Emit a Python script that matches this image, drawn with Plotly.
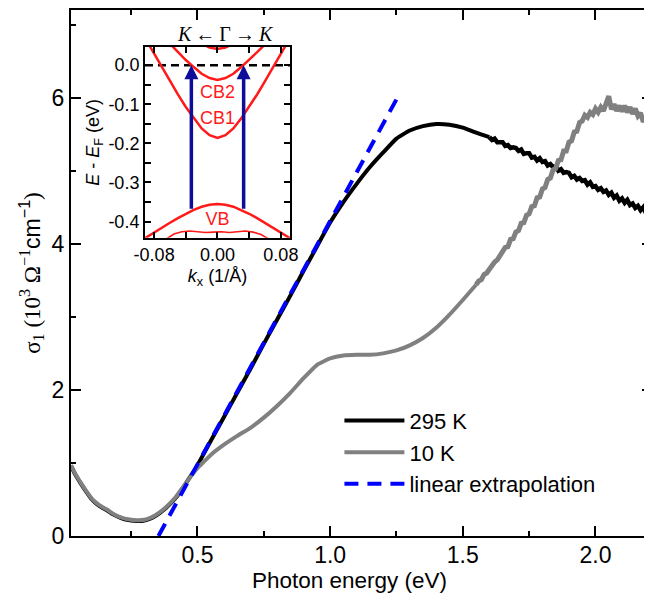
import plotly.graph_objects as go

# ---------------- main data ----------------
# 295 K, smooth part
x_295 = [0.0235, 0.04, 0.06, 0.08, 0.10, 0.12, 0.14, 0.16, 0.18, 0.20, 0.22, 0.24, 0.26, 0.28, 0.30,
         0.32, 0.34, 0.36, 0.38, 0.40, 0.42, 0.44, 0.46, 0.48, 0.50, 0.55, 0.60, 0.65, 0.70, 0.75,
         0.80, 0.85, 0.90, 0.95, 1.00, 1.05, 1.10, 1.15, 1.20, 1.25, 1.30, 1.35, 1.40, 1.45, 1.50,
         1.55, 1.60]
y_295 = [0.96, 0.84, 0.72, 0.61, 0.51, 0.44, 0.39, 0.35, 0.30, 0.265, 0.235, 0.218, 0.208, 0.205, 0.213,
         0.235, 0.27, 0.32, 0.38, 0.45, 0.53, 0.63, 0.74, 0.85, 0.97, 1.30, 1.63, 1.96, 2.29, 2.63,
         2.96, 3.29, 3.63, 3.96, 4.29, 4.57, 4.82, 5.05, 5.25, 5.44, 5.55, 5.61, 5.64, 5.63, 5.59,
         5.52, 5.46]
# 295 K, noisy high-energy part
x_295_hi = [1.60, 1.61, 1.62, 1.63, 1.64, 1.65, 1.66, 1.67, 1.68, 1.69, 1.70, 1.71, 1.72, 1.73, 1.74,
            1.75, 1.76, 1.77, 1.78, 1.79, 1.80, 1.81, 1.82, 1.83, 1.84, 1.85, 1.86, 1.87, 1.88, 1.89,
            1.90, 1.91, 1.92, 1.93, 1.94, 1.95, 1.96, 1.97, 1.98, 1.99, 2.00, 2.01, 2.02, 2.03, 2.04,
            2.05, 2.06, 2.07, 2.08, 2.09, 2.10, 2.11, 2.12, 2.13, 2.14, 2.15, 2.16, 2.17, 2.18, 2.19,
            2.20, 2.21]
y_295_hi = [5.46, 5.42, 5.44, 5.39, 5.39, 5.39, 5.34, 5.35, 5.31, 5.32, 5.31, 5.27, 5.29, 5.23, 5.24,
            5.24, 5.18, 5.19, 5.14, 5.17, 5.12, 5.13, 5.07, 5.09, 5.05, 5.06, 5.00, 5.02, 4.97, 4.98,
            4.97, 4.91, 4.93, 4.88, 4.90, 4.86, 4.87, 4.81, 4.84, 4.78, 4.79, 4.74, 4.76, 4.71, 4.73,
            4.67, 4.70, 4.63, 4.66, 4.59, 4.62, 4.56, 4.60, 4.53, 4.55, 4.49, 4.52, 4.46, 4.50, 4.42,
            4.45, 4.39]

# 10 K, smooth part
x_10 = [0.0235, 0.04, 0.06, 0.08, 0.10, 0.12, 0.14, 0.16, 0.18, 0.20, 0.22, 0.24, 0.26, 0.28, 0.30,
        0.32, 0.34, 0.36, 0.38, 0.40, 0.42, 0.44, 0.46, 0.48, 0.50, 0.52, 0.55, 0.60, 0.65, 0.70,
        0.75, 0.80, 0.85, 0.90, 0.95, 1.00, 1.05, 1.10, 1.15, 1.20, 1.25, 1.30, 1.35, 1.40, 1.45,
        1.50, 1.55]
y_10 = [0.97, 0.85, 0.73, 0.62, 0.52, 0.45, 0.40, 0.36, 0.31, 0.27, 0.245, 0.228, 0.218, 0.215, 0.222,
        0.245, 0.28, 0.33, 0.39, 0.46, 0.54, 0.64, 0.74, 0.84, 0.93, 1.00, 1.11, 1.25, 1.37, 1.48,
        1.62, 1.78, 1.96, 2.16, 2.34, 2.43, 2.47, 2.48, 2.48, 2.50, 2.54, 2.61, 2.71, 2.85, 3.03,
        3.23, 3.44]
# 10 K, noisy high-energy part
x_10_hi = [1.55, 1.56, 1.57, 1.58, 1.59, 1.60, 1.61, 1.62, 1.63, 1.64, 1.65, 1.66, 1.67, 1.68,
           1.69, 1.70, 1.71, 1.72, 1.73, 1.74, 1.75, 1.76, 1.77, 1.78, 1.79, 1.80, 1.81, 1.82, 1.83,
           1.84, 1.85, 1.86, 1.87, 1.88, 1.89, 1.90, 1.91, 1.92, 1.93, 1.94, 1.95, 1.96, 1.97, 1.98,
           1.99, 2.00, 2.01, 2.02, 2.03, 2.04, 2.05, 2.06, 2.07, 2.08, 2.09, 2.10, 2.11, 2.12, 2.13,
           2.14, 2.15, 2.16, 2.17, 2.18, 2.19, 2.20, 2.21]
y_10_hi = [3.44, 3.49, 3.51, 3.58, 3.60, 3.66, 3.69, 3.75, 3.78, 3.84, 3.87, 3.95, 3.96, 4.06,
           4.07, 4.16, 4.18, 4.28, 4.29, 4.39, 4.41, 4.51, 4.52, 4.63, 4.64, 4.75, 4.77, 4.88, 4.90,
           5.01, 5.03, 5.14, 5.15, 5.27, 5.27, 5.39, 5.41, 5.53, 5.54, 5.66, 5.68, 5.76, 5.73, 5.80,
           5.77, 5.85, 5.80, 5.87, 5.82, 5.91, 6.02, 5.84, 5.91, 5.82, 5.89, 5.81, 5.89, 5.80, 5.87,
           5.78, 5.85, 5.75, 5.79, 5.67, 5.72, 5.61, 5.66]

x_lin = [0.353, 1.258]
y_lin = [0.0, 6.03]

x_ticks = [0.5, 1.0, 1.5, 2.0]
x_ticktext = ["0.5", "1.0", "1.5", "2.0"]
x_minor = [0.25, 0.75, 1.25, 1.75]
y_ticks = [0, 2, 4, 6]
y_ticktext = ["0", "2", "4", "6"]
y_minor = [1, 3, 5, 7]

# ---------------- inset data ----------------
k_cb = [-0.10, -0.09, -0.08, -0.07, -0.06, -0.05, -0.04, -0.03, -0.02, -0.01, 0.0,
        0.01, 0.02, 0.03, 0.04, 0.05, 0.06, 0.07, 0.08, 0.09, 0.10]
E_cb2 = [0.138, 0.117, 0.095, 0.074, 0.053, 0.033, 0.013, -0.005, -0.022, -0.033, -0.038,
         -0.033, -0.022, -0.005, 0.013, 0.033, 0.053, 0.074, 0.095, 0.117, 0.138]
E_cb1 = [0.099, 0.064, 0.028, -0.007, -0.041, -0.075, -0.107, -0.136, -0.162, -0.179, -0.186,
         -0.179, -0.162, -0.136, -0.107, -0.075, -0.041, -0.007, 0.028, 0.064, 0.099]
E_vb = [-0.453, -0.440, -0.427, -0.415, -0.403, -0.391, -0.380, -0.370, -0.362, -0.357, -0.355,
        -0.357, -0.362, -0.370, -0.380, -0.391, -0.403, -0.415, -0.427, -0.440, -0.453]
k_vb2 = [-0.075, -0.065, -0.055, -0.045, -0.035, -0.025, -0.015, -0.005, 0.005, 0.015, 0.025,
         0.035, 0.045, 0.055, 0.065, 0.075]
E_vb2 = [-0.465, -0.445, -0.432, -0.426, -0.424, -0.426, -0.428, -0.427, -0.426, -0.428, -0.426,
         -0.424, -0.427, -0.433, -0.445, -0.465]
k_cb3 = [-0.03, -0.02, -0.01, 0.0, 0.01, 0.02, 0.03]
E_cb3 = [0.071, 0.055, 0.045, 0.041, 0.045, 0.055, 0.071]
k_ef = [-0.0915, 0.0915]
E_ef = [0.0, 0.0]
arrow_k = [-0.033, 0.033]
arrow_E_from = [-0.371, -0.371]
arrow_E_to = [0.0, 0.0]

inset_xticks = [-0.08, 0.0, 0.08]
inset_xticktext = ["-0.08", "0.00", "0.08"]
inset_xminor = [-0.04, 0.04]
inset_yticks = [0.0, -0.1, -0.2, -0.3, -0.4]
inset_yticktext = ["0.0", "-0.1", "-0.2", "-0.3", "-0.4"]
inset_yminor = [-0.05, -0.15, -0.25, -0.35]

band_labels = ["CB2", "CB1", "VB"]
band_label_k = [0.0, 0.0, 0.0]
band_label_E = [-0.072, -0.140, -0.398]

SANS = "Liberation Sans, Arial, Helvetica, sans-serif"
SERIF = "Liberation Serif, Times New Roman, serif"
RED = "#ff1a1a"
NAVY = "#0d0d99"
GRAY = "#808080"

fig = go.Figure()

fig.add_trace(go.Scatter(x=x_295, y=y_295, mode="lines", name="295 K", legendrank=1, legendgroup="295",
                         line=dict(color="black", width=4, shape="spline", smoothing=0.4)))
fig.add_trace(go.Scatter(x=x_295_hi, y=y_295_hi, mode="lines", name="295 K", legendgroup="295",
                         showlegend=False, line=dict(color="black", width=4.5)))
fig.add_trace(go.Scatter(x=x_10, y=y_10, mode="lines", name="10 K", legendrank=2, legendgroup="10",
                         line=dict(color=GRAY, width=4, shape="spline", smoothing=0.4)))
fig.add_trace(go.Scatter(x=x_10_hi, y=y_10_hi, mode="lines", name="10 K", legendgroup="10",
                         showlegend=False, line=dict(color=GRAY, width=5)))
fig.add_trace(go.Scatter(x=x_lin, y=y_lin, mode="lines", name="linear extrapolation", legendrank=3,
                         line=dict(color="#0000ff", width=4, dash="14px,9px")))

# inset traces
inset_common = dict(xaxis="x2", yaxis="y2", mode="lines", showlegend=False, hoverinfo="skip")
fig.add_trace(go.Scatter(x=k_ef, y=E_ef, line=dict(color="black", width=2.5, dash="8px,5px"), **inset_common))
fig.add_trace(go.Scatter(x=k_cb, y=E_cb2, line=dict(color=RED, width=2.5), **inset_common))
fig.add_trace(go.Scatter(x=k_cb, y=E_cb1, line=dict(color=RED, width=2.5), **inset_common))
fig.add_trace(go.Scatter(x=k_cb, y=E_vb, line=dict(color=RED, width=2.5), **inset_common))
fig.add_trace(go.Scatter(x=k_vb2, y=E_vb2, line=dict(color=RED, width=1.6), **inset_common))
fig.add_trace(go.Scatter(x=k_cb3, y=E_cb3, line=dict(color=RED, width=2.5), **inset_common))
fig.add_trace(go.Scatter(x=band_label_k, y=band_label_E, mode="text", text=band_labels,
                         textfont=dict(family=SANS, size=18, color=RED),
                         xaxis="x2", yaxis="y2", showlegend=False, hoverinfo="skip"))

annotations = []
for k0, e0, e1 in zip(arrow_k, arrow_E_from, arrow_E_to):
    annotations.append(dict(x=k0, y=e1, ax=k0, ay=e0, xref="x2", yref="y2", axref="x2", ayref="y2",
                            showarrow=True, arrowhead=2, arrowsize=0.8, arrowwidth=3.5,
                            arrowcolor=NAVY, text=""))
annotations.append(dict(text="<i>K</i>\u2009\u2190\u2009\u0393\u2009\u2192\u2009<i>K</i>",
                        x=0.266, y=0.955, xref="paper", yref="paper", showarrow=False,
                        font=dict(family=SERIF, size=20, color="black"),
                        xanchor="center", yanchor="middle"))
annotations.append(dict(text="Photon energy (eV)", x=0.480, y=-0.0855, xref="paper", yref="paper",
                        showarrow=False, font=dict(family=SANS, size=22.5, color="black"),
                        xanchor="center", yanchor="middle"))

axis_common = dict(showline=True, linecolor="black", linewidth=2, mirror="allticks",
                   ticks="inside", tickcolor="black", showgrid=False, zeroline=False)

fig.update_layout(
    width=652, height=595,
    margin=dict(l=63, r=8, t=0, b=67),
    paper_bgcolor="white", plot_bgcolor="white",
    font=dict(family=SANS, color="black", size=22),
    xaxis=dict(range=[0.0235, 2.213], tickvals=x_ticks, ticktext=x_ticktext,
               ticklen=10, tickwidth=2, tickfont=dict(size=23), ticklabelstandoff=-3,
               minor=dict(tickvals=x_minor, ticklen=5, tickwidth=2, ticks="inside", tickcolor="black"),
               **axis_common),
    yaxis=dict(range=[0, 7.2], tickvals=y_ticks, ticktext=y_ticktext,
               ticklen=10, tickwidth=2, tickfont=dict(size=23),
               minor=dict(tickvals=y_minor, ticklen=5, tickwidth=2, ticks="inside", tickcolor="black"),
               title=dict(text=("<span style='font-family:Liberation Serif'>\u03c3<sub>1</sub> (10<sup>3</sup> \u03a9<sup>\u22121</sup></span>"
                                "cm<sup>\u22121</sup><span style='font-family:Liberation Serif'>)</span>"),
                          font=dict(size=23), standoff=5),
               **axis_common),
    xaxis2=dict(domain=[0.1274, 0.3769], anchor="y2", range=[-0.0915, 0.0915],
                tickvals=inset_xticks, ticktext=inset_xticktext, ticklen=6, tickwidth=1.5,
                tickfont=dict(size=18),
                minor=dict(tickvals=inset_xminor, ticklen=6, tickwidth=1.5, ticks="inside", tickcolor="black"),
                title=dict(text="<i>k</i><sub>x</sub> (1/\u00c5)", font=dict(size=18), standoff=5),
                **axis_common),
    yaxis2=dict(domain=[0.5669, 0.93], anchor="x2", range=[-0.4415, 0.0468],
                tickvals=inset_yticks, ticktext=inset_yticktext, ticklen=6, tickwidth=1.5,
                tickfont=dict(size=18),
                minor=dict(tickvals=inset_yminor, ticklen=6, tickwidth=1.5, ticks="inside", tickcolor="black"),
                title=dict(text="<i>E</i> - <i>E</i><sub>F</sub> (eV)", font=dict(size=18), standoff=4),
                **axis_common),
    legend=dict(x=0.462, y=0.259, xanchor="left", yanchor="top", bgcolor="rgba(0,0,0,0)",
                font=dict(size=22), itemwidth=60, tracegroupgap=0),
    annotations=annotations,
)

fig.write_html("out.html")
